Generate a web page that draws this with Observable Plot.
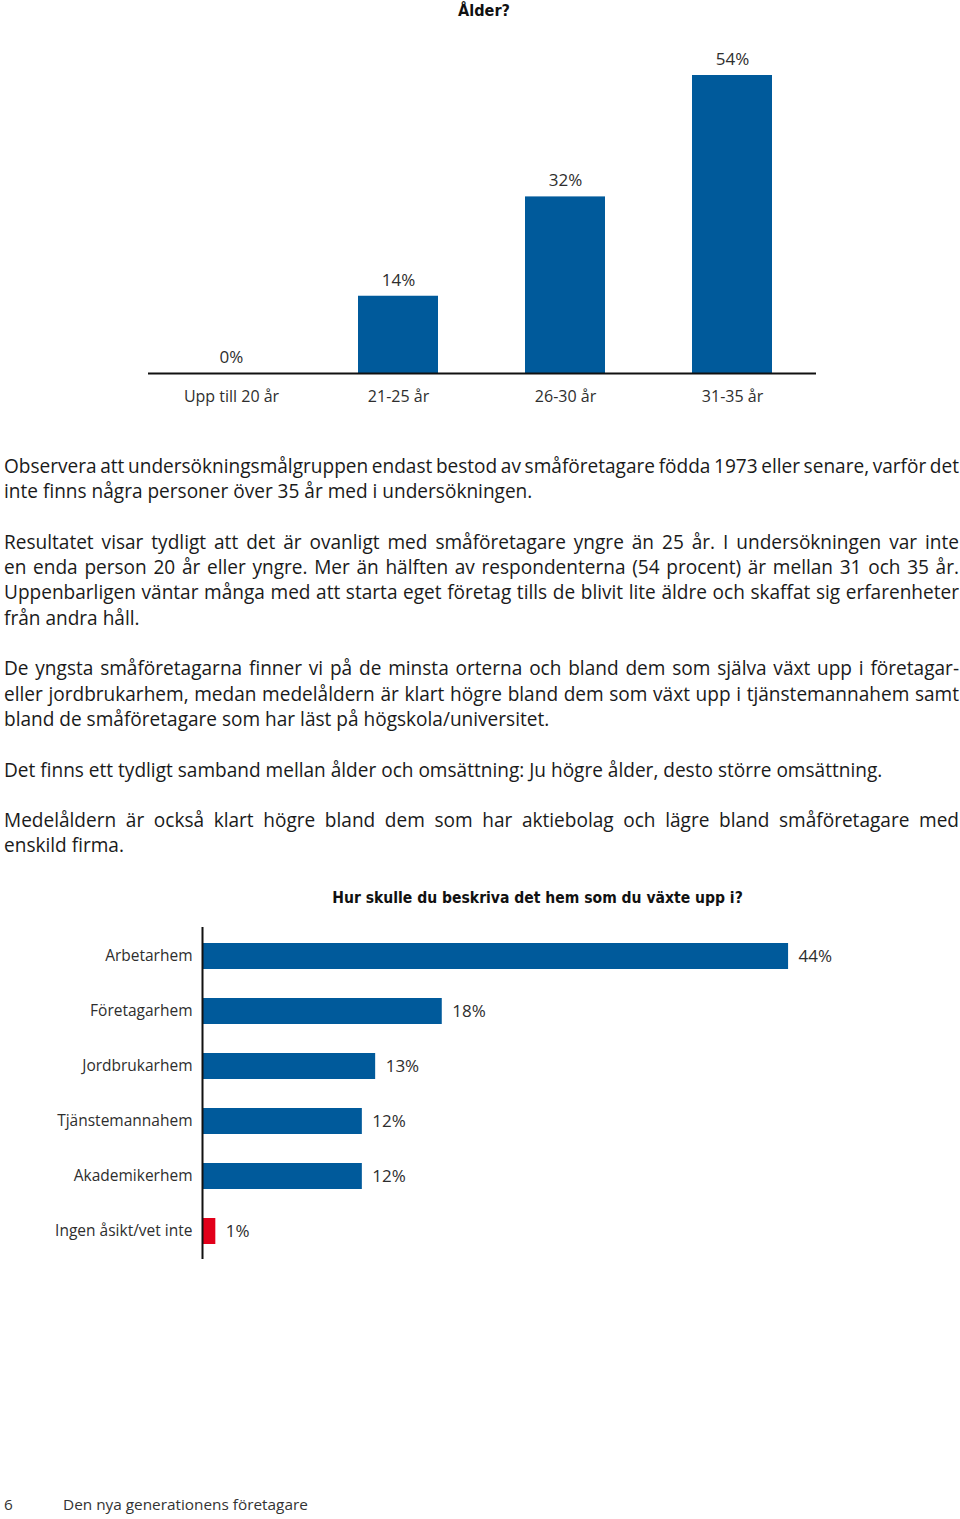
<!DOCTYPE html>
<html><head><meta charset="utf-8">
<script src="https://cdn.jsdelivr.net/npm/d3@7"></script>
<script src="https://cdn.jsdelivr.net/npm/@observablehq/plot@0.6"></script>
<style>
html,body{margin:0;padding:0;background:#fff}
body{width:960px;height:1519px;position:relative;overflow:hidden;font-family:"Open Sans",sans-serif;color:#1a1a1a}
.abs{position:absolute}
.title{font-family:"Liberation Sans Narrow","DejaVu Sans Condensed",sans-serif;font-weight:bold;color:#111;white-space:nowrap;line-height:1;transform:translate(-50%,-50%)}
.line{white-space:nowrap;height:25.3px;line-height:25.3px}
.foot{color:#333;white-space:nowrap;line-height:1;transform:translateY(-50%)}
</style></head><body>
<script>
// ---- data ----
const ageTitle = "Ålder?";
const ageCategories = ["Upp till 20 år", "21-25 år", "26-30 år", "31-35 år"];
const ageValues = [0, 14, 32, 54];

const homeTitle = "Hur skulle du beskriva det hem som du växte upp i?";
const homeCategories = ["Arbetarhem", "Företagarhem", "Jordbrukarhem", "Tjänstemannahem", "Akademikerhem", "Ingen åsikt/vet inte"];
const homeValues = [44, 18, 13, 12, 12, 1];

// paragraphs as printed lines; non-final lines are justified to the column width
const paragraphs = [
  ["Observera att undersökningsmålgruppen endast bestod av småföretagare födda 1973 eller senare, varför det",
   "inte finns några personer över 35 år med i undersökningen."],
  ["Resultatet visar tydligt att det är ovanligt med småföretagare yngre än 25 år. I undersökningen var inte",
   "en enda person 20 år eller yngre. Mer än hälften av respondenterna (54 procent) är mellan 31 och 35 år.",
   "Uppenbarligen väntar många med att starta eget företag tills de blivit lite äldre och skaffat sig erfarenheter",
   "från andra håll."],
  ["De yngsta småföretagarna finner vi på de minsta orterna och bland dem som själva växt upp i företagar-",
   "eller jordbrukarhem, medan medelåldern är klart högre bland dem som växt upp i tjänstemannahem samt",
   "bland de småföretagare som har läst på högskola/universitet."],
  ["Det finns ett tydligt samband mellan ålder och omsättning: Ju högre ålder, desto större omsättning."],
  ["Medelåldern är också klart högre bland dem som har aktiebolag och lägre bland småföretagare med",
   "enskild firma."]
];
const pageNumber = "6";
const footerText = "Den nya generationens företagare";

// ---- helpers ----
const BLUE = "#005a9b", RED = "#e2001a", LABEL = "#2e2e2e";
const ctx = document.createElement("canvas").getContext("2d");
function measure(text, font) { ctx.font = font; return ctx.measureText(text).width; }
function fitSize(text, family, weight, target) {
  const w = measure(text, `${weight} 20px ${family}`);
  return 20 * target / w;
}
function place(el, left, top) { el.style.left = left + "px"; el.style.top = top + "px"; document.body.appendChild(el); return el; }

const TITLE_FAMILY = '"Liberation Sans Narrow","DejaVu Sans Condensed",sans-serif';
const BODY_FAMILY = '"Open Sans",sans-serif';

// ---- chart 1 title ----
{
  const t = document.createElement("div");
  t.className = "abs title";
  t.textContent = ageTitle;
  t.style.fontSize = fitSize(ageTitle, TITLE_FAMILY, "bold", 52).toFixed(2) + "px";
  place(t, 484, 11);
}

// ---- chart 1 ----
{
  const data = ageCategories.map((c, i) => ({cat: c, value: ageValues[i]}));
  const chart = Plot.plot({
    width: 960, height: 390,
    marginLeft: 148, marginRight: 144, marginTop: 45, marginBottom: 47,
    style: {fontFamily: BODY_FAMILY, fontSize: "16px", color: LABEL, background: "transparent"},
    x: {domain: ageCategories, paddingInner: 0.52, paddingOuter: 0.26, label: null, tickSize: 0, tickPadding: 17},
    y: {domain: [0, 54], axis: null},
    marks: [
      Plot.barY(data, {x: "cat", y: "value", fill: BLUE}),
      Plot.text(data, {x: "cat", y: "value", text: d => `${d.value}%`, dy: -16, fontSize: 17, fill: LABEL}),
      Plot.ruleY([0], {stroke: "#111", strokeWidth: 2})
    ]
  });
  chart.classList.add("abs");
  place(chart, 0, 30);
}

// ---- paragraphs ----
{
  const size = fitSize(paragraphs[3][0], BODY_FAMILY, "normal", 879);
  const font = `normal ${size}px ${BODY_FAMILY}`;
  const target = 955;
  const box = document.createElement("div");
  box.className = "abs";
  box.style.width = "960px";
  box.style.fontSize = size.toFixed(3) + "px";
  paragraphs.forEach((lines, pi) => {
    if (pi > 0) { const b = document.createElement("div"); b.className = "line"; box.appendChild(b); }
    lines.forEach((ln, li) => {
      const d = document.createElement("div");
      d.className = "line";
      d.textContent = ln;
      const full = li < lines.length - 1;
      if (full) {
        const nat = measure(ln, font);
        const spaces = (ln.match(/ /g) || []).length;
        d.style.wordSpacing = ((target - nat) / spaces).toFixed(3) + "px";
      }
      box.appendChild(d);
    });
  });
  place(box, 4, 454);
}

// ---- chart 2 title ----
{
  const t = document.createElement("div");
  t.className = "abs title";
  t.textContent = homeTitle;
  t.style.fontSize = fitSize(homeTitle, TITLE_FAMILY, "bold", 411).toFixed(2) + "px";
  place(t, 537.5, 899);
}

// ---- chart 2 ----
{
  const data = homeCategories.map((c, i) => ({cat: c, value: homeValues[i]}));
  const last = homeCategories[homeCategories.length - 1];
  const chart = Plot.plot({
    width: 960, height: 355,
    marginLeft: 202, marginRight: 92, marginTop: 13, marginBottom: 10,
    style: {fontFamily: BODY_FAMILY, fontSize: "15.5px", color: LABEL, background: "transparent"},
    y: {domain: homeCategories, paddingInner: 0.53, paddingOuter: 0.265, label: null, tickSize: 0, tickPadding: 10},
    x: {domain: [0, 50], axis: null},
    marks: [
      Plot.barX(data, {y: "cat", x: "value", fill: d => d.cat === last ? RED : BLUE}),
      Plot.text(data, {y: "cat", x: "value", text: d => `${d.value}%`, dx: 10, textAnchor: "start", fontSize: 17, fill: LABEL}),
      Plot.ruleX([0], {stroke: "#111", strokeWidth: 2})
    ]
  });
  chart.classList.add("abs");
  place(chart, 0, 914);
}

// ---- footer ----
{
  const fs = fitSize(footerText, BODY_FAMILY, "normal", 245);
  const a = document.createElement("div");
  a.className = "abs foot"; a.textContent = pageNumber; a.style.fontSize = fs.toFixed(2) + "px";
  place(a, 4, 1505);
  const b = document.createElement("div");
  b.className = "abs foot"; b.textContent = footerText; b.style.fontSize = fs.toFixed(2) + "px";
  place(b, 63, 1505);
}
</script>
</body></html>
